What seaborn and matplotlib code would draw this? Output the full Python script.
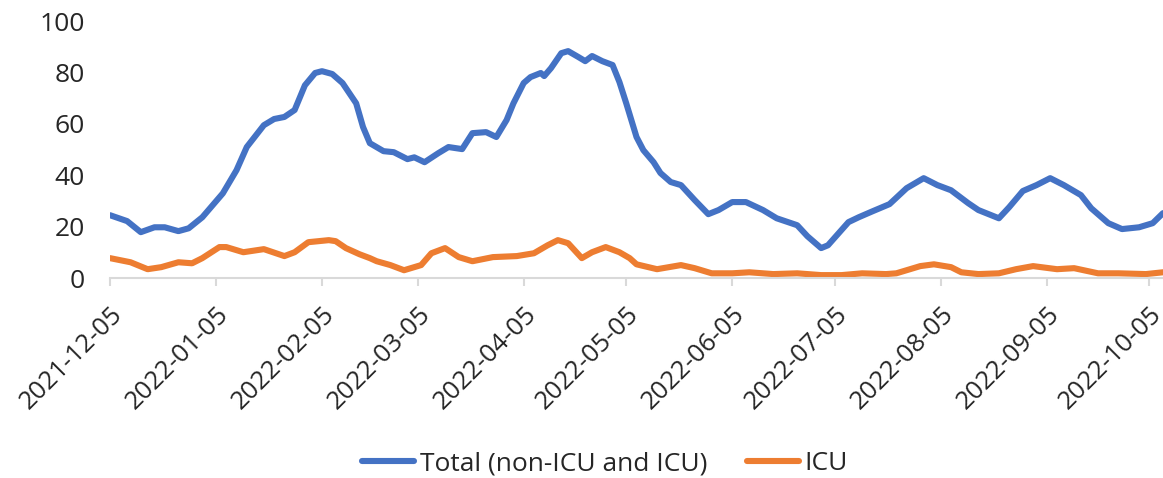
import pandas as pd
import matplotlib
matplotlib.use("Agg")
import matplotlib.pyplot as plt
import matplotlib.dates as mdates
import seaborn as sns

# Total (non-ICU and ICU)
total_dates = ["2021-12-05", "2021-12-10", "2021-12-14", "2021-12-18", "2021-12-21", "2021-12-25",
               "2021-12-28", "2022-01-01", "2022-01-07", "2022-01-11", "2022-01-14", "2022-01-19",
               "2022-01-22", "2022-01-25", "2022-01-28", "2022-01-31", "2022-02-03", "2022-02-05",
               "2022-02-08", "2022-02-11", "2022-02-15", "2022-02-17", "2022-02-19", "2022-02-23",
               "2022-02-26", "2022-03-02", "2022-03-04", "2022-03-07", "2022-03-11", "2022-03-14",
               "2022-03-18", "2022-03-21", "2022-03-25", "2022-03-28", "2022-03-31", "2022-04-02",
               "2022-04-05", "2022-04-07", "2022-04-10", "2022-04-11", "2022-04-13", "2022-04-16",
               "2022-04-18", "2022-04-21", "2022-04-23", "2022-04-25", "2022-04-28", "2022-05-01",
               "2022-05-03", "2022-05-05", "2022-05-08", "2022-05-10", "2022-05-13", "2022-05-15",
               "2022-05-18", "2022-05-21", "2022-05-25", "2022-05-29", "2022-06-01", "2022-06-05",
               "2022-06-09", "2022-06-14", "2022-06-18", "2022-06-24", "2022-06-27", "2022-07-01",
               "2022-07-03", "2022-07-09", "2022-07-12", "2022-07-16", "2022-07-21", "2022-07-26",
               "2022-07-31", "2022-08-04", "2022-08-08", "2022-08-13", "2022-08-16", "2022-08-19",
               "2022-08-22", "2022-08-25", "2022-08-29", "2022-09-02", "2022-09-06", "2022-09-10",
               "2022-09-15", "2022-09-18", "2022-09-23", "2022-09-27", "2022-10-02", "2022-10-06",
               "2022-10-09"]
total_vals = [24.5, 22.2, 17.9, 19.8, 19.8, 18.3,
              19.4, 23.7, 33.0, 42.0, 51.0, 59.5,
              61.9, 62.7, 65.4, 75.0, 79.8, 80.5,
              79.4, 75.9, 68.0, 58.8, 52.5, 49.4,
              49.0, 46.3, 47.0, 45.1, 48.6, 51.0,
              50.2, 56.4, 56.8, 54.9, 61.5, 68.0,
              75.9, 78.2, 79.8, 78.6, 81.7, 87.5,
              88.3, 86.0, 84.4, 86.4, 84.4, 82.9,
              76.3, 68.0, 54.9, 49.8, 45.1, 40.9,
              37.4, 36.2, 30.4, 24.9, 26.5, 29.6,
              29.6, 26.5, 23.3, 20.6, 16.3, 11.7,
              12.8, 21.8, 23.7, 26.0, 28.8, 35.0,
              38.9, 36.2, 34.2, 29.2, 26.5, 24.9,
              23.3, 27.6, 33.9, 36.2, 38.9, 36.2,
              32.3, 27.2, 21.4, 19.1, 19.8, 21.4,
              25.3]

# ICU
icu_dates = ["2021-12-05", "2021-12-11", "2021-12-16", "2021-12-20", "2021-12-25", "2021-12-29",
             "2022-01-01", "2022-01-06", "2022-01-08", "2022-01-13", "2022-01-19", "2022-01-25",
             "2022-01-28", "2022-02-01", "2022-02-07", "2022-02-09", "2022-02-12", "2022-02-16",
             "2022-02-19", "2022-02-21", "2022-02-25", "2022-03-01", "2022-03-06", "2022-03-09",
             "2022-03-13", "2022-03-17", "2022-03-21", "2022-03-27", "2022-04-03", "2022-04-08",
             "2022-04-12", "2022-04-15", "2022-04-18", "2022-04-22", "2022-04-25", "2022-04-29",
             "2022-05-03", "2022-05-06", "2022-05-08", "2022-05-14", "2022-05-21", "2022-05-25",
             "2022-05-30", "2022-06-05", "2022-06-10", "2022-06-17", "2022-06-24", "2022-07-01",
             "2022-07-07", "2022-07-13", "2022-07-20", "2022-07-23", "2022-07-30", "2022-08-03",
             "2022-08-08", "2022-08-11", "2022-08-16", "2022-08-22", "2022-08-27", "2022-09-01",
             "2022-09-08", "2022-09-13", "2022-09-20", "2022-09-26", "2022-10-04", "2022-10-09"]
icu_vals = [7.8, 6.2, 3.5, 4.3, 6.2, 5.8,
            7.8, 12.1, 12.1, 10.1, 11.3, 8.6,
            10.1, 14.0, 14.8, 14.4, 11.7, 9.3,
            7.8, 6.6, 5.1, 3.1, 5.1, 9.7,
            11.7, 8.2, 6.6, 8.2, 8.6, 9.7,
            12.8, 14.8, 13.6, 7.8, 10.1, 12.1,
            10.1, 7.8, 5.4, 3.5, 5.1, 3.9,
            1.9, 1.9, 2.3, 1.6, 1.9, 1.2,
            1.2, 1.9, 1.6, 1.9, 4.7, 5.4,
            4.3, 2.3, 1.6, 1.9, 3.5, 4.7,
            3.5, 3.9, 1.9, 1.9, 1.6, 2.3]

series_names = ["Total (non-ICU and ICU)", "ICU"]
colors = ["#4472C4", "#ED7D31"]

df = pd.concat([
    pd.DataFrame({"date": pd.to_datetime(total_dates), "value": total_vals, "series": series_names[0]}),
    pd.DataFrame({"date": pd.to_datetime(icu_dates), "value": icu_vals, "series": series_names[1]}),
])

sns.set_style("white")
plt.rcParams["font.family"] = ["Open Sans", "DejaVu Sans"]

fig = plt.figure(figsize=(11.63, 4.78), dpi=100)
ax = fig.add_axes([0.0946, 0.418, 0.9054, 0.538])

sns.lineplot(data=df, x="date", y="value", hue="series", hue_order=series_names,
             palette=colors, linewidth=4.4, ax=ax, legend=True)
for line in ax.get_lines():
    line.set_solid_joinstyle("round")
    line.set_solid_capstyle("round")

ax.set_xlim(pd.Timestamp("2021-12-05"), pd.Timestamp("2022-10-09"))
ax.set_ylim(0, 100)
ax.set_yticks([0, 20, 40, 60, 80, 100])
ax.xaxis.set_major_locator(mdates.MonthLocator(bymonthday=5))
ax.xaxis.set_major_formatter(mdates.DateFormatter("%Y-%m-%d"))
ax.set_xlabel("")
ax.set_ylabel("")

for s in ["top", "right", "left"]:
    ax.spines[s].set_visible(False)
ax.spines["bottom"].set_color("#d9d9d9")
ax.spines["bottom"].set_linewidth(1.5)

ax.tick_params(axis="y", length=0, pad=18, labelsize=19)
ax.tick_params(axis="x", length=6, width=1.5, color="#d9d9d9", pad=11, labelsize=18.5, bottom=True)
for lab in ax.get_xticklabels():
    lab.set_rotation(45)
    lab.set_ha("right")
    lab.set_rotation_mode("anchor")

handles, labels = ax.get_legend_handles_labels()
ax.get_legend().remove()
fig.legend(handles, labels, loc="center", bbox_to_anchor=(0.52, 0.03), ncol=2, frameon=False,
           fontsize=19, handlelength=2.0, handletextpad=0.2, columnspacing=1.5)

fig.savefig("out.png", dpi=100)
